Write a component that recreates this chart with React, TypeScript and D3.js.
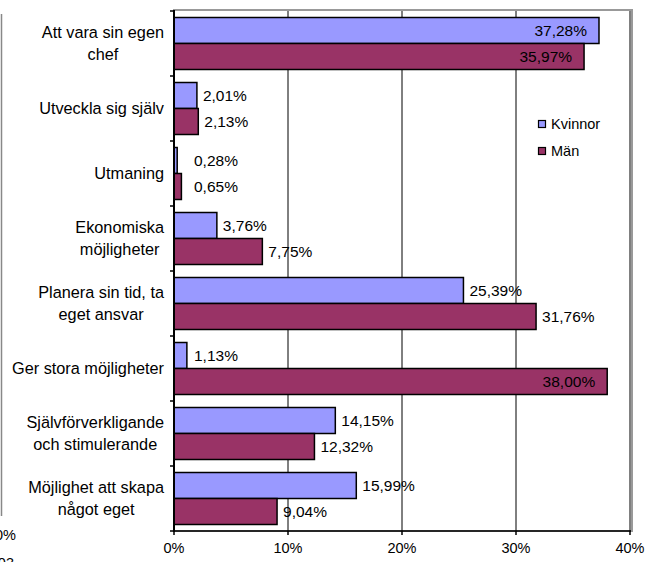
import React from "react";
import * as d3 from "d3";

const categories: string[][] = [
  ["Att vara sin egen", "chef"],
  ["Utveckla sig själv"],
  ["Utmaning"],
  ["Ekonomiska", "möjligheter"],
  ["Planera sin tid, ta", "eget ansvar"],
  ["Ger stora möjligheter"],
  ["Självförverkligande", "och stimulerande"],
  ["Möjlighet att skapa", "något eget"],
];
const seriesNames = ["Kvinnor", "Män"];
const kvinnor = [37.28, 2.01, 0.28, 3.76, 25.39, 1.13, 14.15, 15.99];
const man = [35.97, 2.13, 0.65, 7.75, 31.76, 38.0, 12.32, 9.04];
const xTicks = [0, 10, 20, 30, 40];
const colors = ["#9999FF", "#993366"];

const FONT = "Arial, 'Liberation Sans', sans-serif";
const CAT_FS = 16.3;
const VAL_FS = 15.5;
const AX_FS = 14.5;

function measure(text: string, fs: number): number {
  if (typeof document === "undefined") return text.length * fs * 0.55;
  const c = document.createElement("canvas");
  const ctx = c.getContext("2d")!;
  ctx.font = `${fs}px ${FONT}`;
  return ctx.measureText(text).width;
}

export default function App() {
  const left = 174, right = 630, top = 11, bottom = 531;
  const x = d3.scaleLinear().domain([0, 40]).range([left, right]);
  const y = d3.scaleBand<number>().domain(d3.range(categories.length)).range([top, bottom]).paddingInner(0).paddingOuter(0);
  const bw = y.bandwidth();
  const gap = 6.5;
  const barH = (bw - 2 * gap) / 2;
  const fmt = (v: number) => v.toFixed(2).replace(".", ",") + "%";
  const series = [kvinnor, man];

  return (
    <svg width={647} height={562} style={{ position: "absolute", left: 0, top: 0, background: "#fff" }} fontFamily={FONT}>
      {/* artifacts from neighbouring chart */}
      <line x1={1.5} y1={14} x2={1.5} y2={516} stroke="#888" strokeWidth={1.5} />
      <text x={16} y={540} textAnchor="end" fill="#000" fontSize={AX_FS}>10%</text>
      <text x={14} y={568} textAnchor="end" fill="#000" fontSize={AX_FS}>2003</text>

      {/* plot area border with shadow */}
      <rect x={left} y={top - 1} width={right - left + 2} height={bottom - top + 1} fill="none" stroke="#999" strokeWidth={2} />
      {/* gridlines */}
      {xTicks.slice(1).map((t) => (
        <line key={t} x1={x(t)} x2={x(t)} y1={top} y2={bottom} stroke="#000" strokeWidth={1} />
      ))}
      {/* bars */}
      {categories.map((_, i) =>
        series.map((s, j) => {
          const y0 = (y(i) as number) + gap + j * barH;
          return (
            <rect key={`${i}-${j}`} x={x(0)} y={y0} width={x(s[i]) - x(0)} height={barH} fill={colors[j]} stroke="#000" strokeWidth={1.5} />
          );
        })
      )}
      {/* value labels */}
      {categories.map((_, i) =>
        series.map((s, j) => {
          const y0 = (y(i) as number) + gap + j * barH + barH / 2 + 5.5;
          const v = s[i];
          const inside = v > 33;
          const xx = inside ? x(v) - 12 : Math.max(x(v) + 6, 194);
          return (
            <text key={`l${i}-${j}`} x={xx} y={y0} textAnchor={inside ? "end" : "start"} fill="#000" fontSize={VAL_FS}>{fmt(v)}</text>
          );
        })
      )}
      {/* axes */}
      <line x1={left} x2={left} y1={top - 1} y2={bottom + 1} stroke="#000" strokeWidth={2} />
      <line x1={left} x2={right + 1} y1={bottom} y2={bottom} stroke="#000" strokeWidth={1.5} />
      {d3.range(categories.length + 1).map((i) => {
        const yy = i < categories.length ? (y(i) as number) : bottom;
        return <line key={`ct${i}`} x1={left - 4} x2={left} y1={yy} y2={yy} stroke="#000" strokeWidth={1.5} />;
      })}
      {xTicks.map((t) => (
        <g key={`xt${t}`}>
          <line x1={x(t)} x2={x(t)} y1={bottom} y2={bottom + 4} stroke="#000" strokeWidth={1.5} />
          <text x={x(t)} y={553} textAnchor="middle" fill="#000" fontSize={AX_FS}>{t}%</text>
        </g>
      ))}
      {/* category labels */}
      {categories.map((lines, i) => {
        const maxW = Math.max(...lines.map((l) => measure(l, CAT_FS)));
        const cx = 164 - maxW / 2;
        const cy = (y(i) as number) + bw / 2;
        const lh = 22;
        return lines.map((ln, k) => (
          <text key={`c${i}-${k}`} x={cx} y={cy + (k - (lines.length - 1) / 2) * lh + 5.5} textAnchor="middle" fill="#000" fontSize={CAT_FS}>{ln}</text>
        ));
      })}
      {/* legend */}
      {seriesNames.map((n, j) => (
        <g key={n}>
          <rect x={538.5} y={120.5 + j * 27} width={7} height={7} fill={colors[j]} stroke="#000" strokeWidth={1.2} />
          <text x={551} y={129 + j * 27} fill="#000" fontSize={AX_FS}>{n}</text>
        </g>
      ))}
    </svg>
  );
}
